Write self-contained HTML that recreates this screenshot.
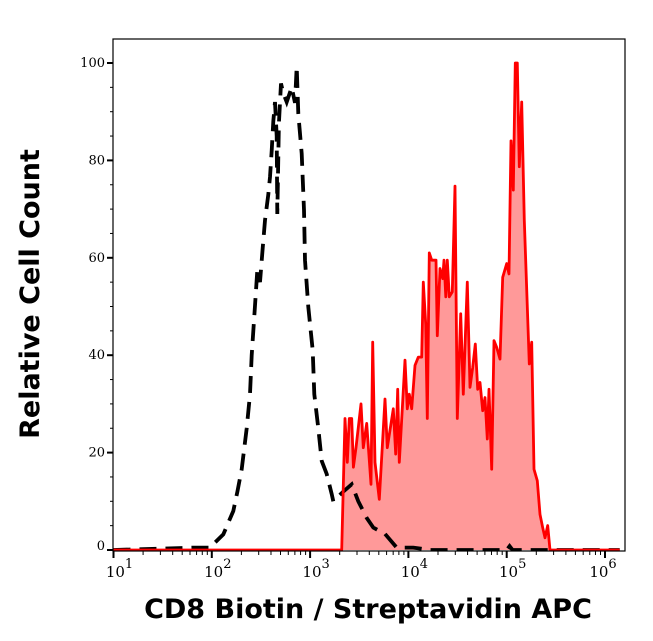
<!DOCTYPE html>
<html><head><meta charset="utf-8"><style>
html,body{margin:0;padding:0;background:#fff;width:653px;height:641px;overflow:hidden}
svg{display:block}
</style></head><body>
<svg id="chart" width="653" height="641" viewBox="0 0 653 641" xmlns="http://www.w3.org/2000/svg">
<g id="plot"></g>
<g id="axes"></g>
<text x="39" y="294" transform="rotate(-90 39 294)" text-anchor="middle" font-family="'DejaVu Sans',sans-serif" font-weight="bold" font-size="27">Relative Cell Count</text>
<text x="368" y="618" text-anchor="middle" font-family="'DejaVu Sans',sans-serif" font-weight="bold" font-size="27">CD8 Biotin / Streptavidin APC</text>
</svg>
<script>
const yTicks=[0,20,40,60,80,100];
const xDecades=[1,2,3,4,5,6];
const stainedLog=[1.0,3.30,3.321,3.355,3.378,3.399,3.423,3.440,3.467,3.518,3.541,3.576,3.620,3.637,3.660,3.704,3.762,3.785,3.846,3.871,3.891,3.907,3.965,3.989,4.009,4.034,4.067,4.101,4.135,4.152,4.176,4.192,4.213,4.237,4.281,4.294,4.321,4.349,4.362,4.380,4.396,4.416,4.447,4.474,4.497,4.532,4.558,4.599,4.627,4.654,4.681,4.705,4.728,4.756,4.779,4.803,4.820,4.847,4.871,4.898,4.932,4.959,5.000,5.023,5.044,5.067,5.087,5.108,5.128,5.153,5.179,5.230,5.254,5.278,5.311,5.339,5.366,5.390,5.417,5.440,6.15];
const stainedVal=[0,0,0,27,18,27,27,17,21,30,21,26,13.5,42.7,18,10.4,31,21,29,19.7,33,18,39,29,32,29,37.9,39.6,39.6,55,46.4,27,61,59.5,59.5,44,57.8,55.7,59.5,52,59.5,52,53,74.7,27,48.5,32,55,33.4,37.5,42.3,33,34.4,28.6,31.3,22.8,33,16.6,43,41.6,39.2,56,58.8,56.7,84,73.9,100,100,78.7,92,67.7,38.2,42.7,16.6,14.2,7.3,4.6,2.5,5,0,0];
const controlLog=[1.0,1.83,1.98,2.117,2.219,2.26,2.304,2.355,2.389,2.406,2.44,2.463,2.49,2.518,2.541,2.575,2.592,2.609,2.626,2.643,2.66,2.666,2.683,2.704,2.727,2.762,2.813,2.846,2.864,2.88,2.915,2.938,2.948,2.982,3.026,3.043,3.083,3.118,3.169,3.22,3.236,3.338,3.423,3.49,3.576,3.643,3.762,3.881,4.05,4.22,5.0,5.03,5.06,6.15];
const controlVal=[0,0.5,0.5,3.2,8,12,16.6,25,32,40,50.5,57.4,55,62,67.7,73,76.6,82,88,92,85,69,87.6,95.8,93.8,92,95,91.8,99.3,89.6,81.4,69.8,59.5,49.9,41,32,25,18.3,15.6,11.5,10,12,13.5,10,6.6,4.6,3.3,0.5,0.5,0,0,0.8,0,0];

const L=113,T=39,R=625,B=551;
const xs=l=>113.5+(l-1)*98.3;
const ys=v=>550-v*4.87;
const NS='http://www.w3.org/2000/svg';
function mk(tag,attrs,parent){const e=document.createElementNS(NS,tag);for(const k in attrs)e.setAttribute(k,attrs[k]);parent.appendChild(e);return e;}
const plot=document.getElementById('plot'),axes=document.getElementById('axes');
const clip=mk('clipPath',{id:'cp'},plot);mk('rect',{x:L,y:T,width:R-L,height:B-T},clip);
const g=mk('g',{'clip-path':'url(#cp)'},plot);

let d='M'+xs(stainedLog[0])+','+ys(0);
stainedLog.forEach((l,i)=>{d+=' L'+xs(l).toFixed(1)+','+ys(stainedVal[i]).toFixed(1);});
const fill=mk('path',{d:d+' L'+xs(stainedLog[stainedLog.length-1])+','+ys(0)+' Z',fill:'#ff9999',stroke:'none'},g);



let dc='';
controlLog.forEach((l,i)=>{dc+=(i?' L':'M')+xs(l).toFixed(1)+','+ys(controlVal[i]).toFixed(1);});
const ctl=mk('path',{d:dc,fill:'none',stroke:'#000','stroke-width':3.8,'stroke-dasharray':'17 9'},g);



const st=mk('path',{d:d,fill:'none',stroke:'#ff0000','stroke-width':2.8,'stroke-linejoin':'round'},g);



const frame=mk('rect',{x:L,y:T,width:R-L,height:B-T,fill:'none',stroke:'#000','stroke-width':1.2},axes);



for(let v=0;v<=100;v+=5){
  const major=v%20===0;
  mk('line',{x1:L-(major?6:3),x2:L,y1:ys(v),y2:ys(v),stroke:'#000','stroke-width':major?2:1},axes);
}
yTicks.forEach(v=>{
  const t=mk('text',{x:L-8,y:ys(v)+(v===0?0:4),'text-anchor':'end','font-family':"'DejaVu Serif',serif",'font-size':13},axes);
  t.textContent=v;
  
  
});
xDecades.forEach(p=>{
  mk('line',{x1:xs(p),x2:xs(p),y1:B,y2:B+7,stroke:'#000','stroke-width':2},axes);
  if(p<6)for(let m=2;m<=9;m++){const x=xs(p+Math.log10(m));if(x<R)mk('line',{x1:x,x2:x,y1:B,y2:B+4,stroke:'#000','stroke-width':1},axes);}
  const t=mk('text',{x:xs(p)+(p==1?6:p==6?-2:6),y:B+26,'text-anchor':'middle','font-family':"'DejaVu Serif',serif",'font-size':15},axes);
  
  
  t.appendChild(document.createTextNode('10'));
  const s=mk('tspan',{dy:-9,'font-size':13},t);s.textContent=p;
});
</script>
</body></html>
